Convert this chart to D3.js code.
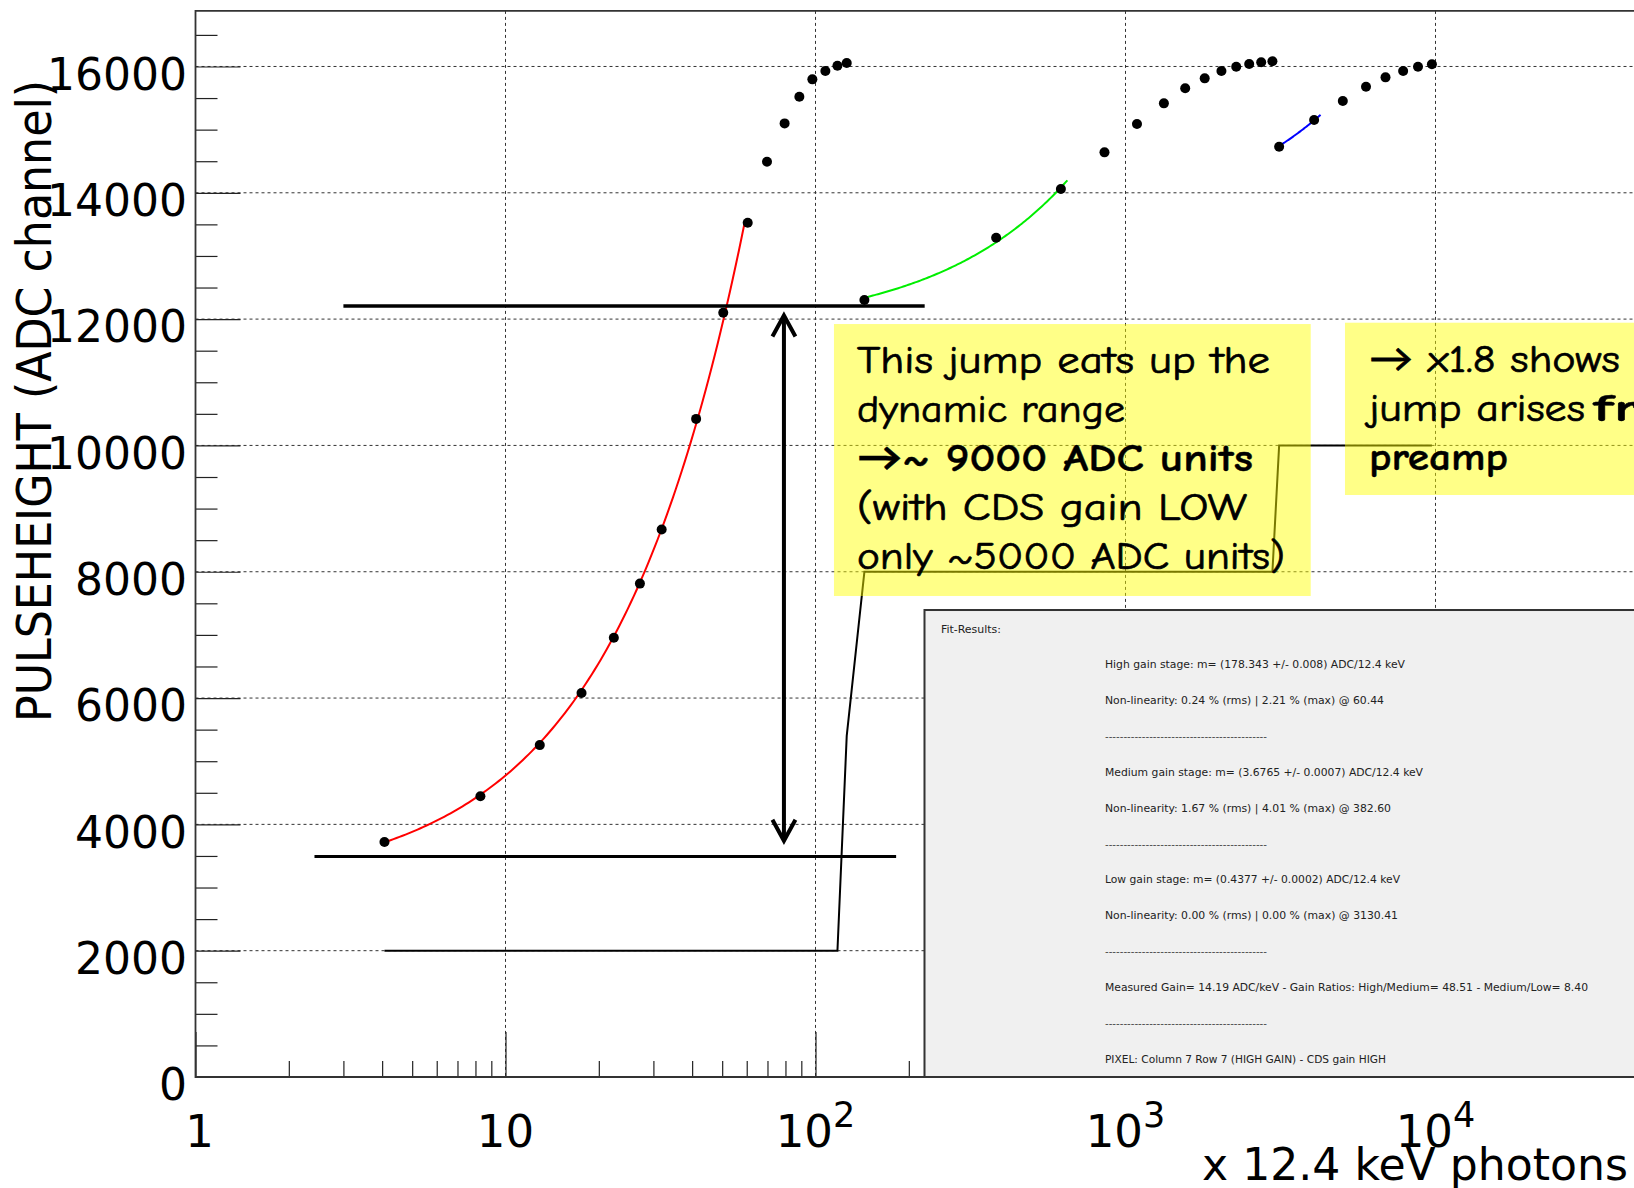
<!DOCTYPE html>
<html>
<head>
<meta charset="utf-8">
<script src="https://cdn.jsdelivr.net/npm/d3@7"></script>
<style>
  html, body { margin: 0; padding: 0; background: #fff; overflow: hidden; }
  svg { display: block; }
</style>
</head>
<body>
<svg id="chart" width="1634" height="1188"></svg>
<script>
// Pulse height vs. number of 12.4 keV photons for one pixel (three gain stages)
const photons = [
  4.07, 8.30, 12.9, 17.59, 22.36, 27.14, 31.9, 41.2, 50.4, 60.44,
  69.75, 79.5, 88.7, 97.7, 107.6, 117.7, 126.1,
  143.8, 382.6, 618.9,
  855.5, 1089, 1330, 1558, 1801, 2039, 2276, 2506, 2740, 2978,
  3130.41, 4059,
  5023, 5968, 6898, 7864, 8781, 9737
];
const pulseHeight = [
  3721, 4446, 5255, 6080, 6954, 7812, 8670, 10420, 12102, 13526,
  14492, 15099, 15521, 15796, 15928, 16012, 16055,
  12302, 13289, 14060,
  14640, 15089, 15416, 15654, 15812, 15928, 15996, 16039, 16066, 16082,
  14730, 15152,
  15453, 15680, 15828, 15928, 15996, 16034
];
// gain-stage trace drawn through every measurement
const stageLevel = [
  2000, 2000, 2000, 2000, 2000, 2000, 2000, 2000, 2000, 2000,
  2000, 2000, 2000, 2000, 2000, 2000, 5400,
  8000, 8000, 8000,
  8000, 8000, 8000, 8000, 8000, 8000, 8000, 8000, 8000, 8000,
  10000, 10000,
  10000, 10000, 10000, 10000, 10000, 10000
];

// linear fits per gain stage: slope (ADC per photon), offset, fitted photon range
const fitNames   = ["high", "medium", "low"];
const fitSlopes  = [178.343, 3.6765, 0.4377];
const fitOffsets = [2990, 11810, 13370];
const fitFrom    = [4.07, 143.8, 3100];
const fitTo      = [59.2, 649.5, 4258];
const fitColors  = ["#ff0000", "#00ee00", "#0000ff"];

// dynamic-range markers
const levelLines = [
  { level: 12207, from: 3.0,  to: 225, width: 3.5 },
  { level: 3490,  from: 2.42, to: 182, width: 3 }
];
const jumpArrow = { at: 79.1, from: 3725, to: 12073 };

// axis ticks
const yMajor = [0, 2000, 4000, 6000, 8000, 10000, 12000, 14000, 16000];
const yMinor = [500, 1000, 1500, 2500, 3000, 3500, 4500, 5000, 5500, 6500, 7000, 7500,
                8500, 9000, 9500, 10500, 11000, 11500, 12500, 13000, 13500, 14500, 15000,
                15500, 16500];
const xMajor = [1, 10, 100, 1000, 10000];
const xBase  = ["1", "10", "10", "10", "10"];
const xExp   = ["", "", "2", "3", "4"];
const xMinor = [2, 3, 4, 5, 6, 7, 8, 9, 20, 30, 40, 50, 60, 70, 80, 90,
                200, 300, 400, 500, 600, 700, 800, 900,
                2000, 3000, 4000, 5000, 6000, 7000, 8000, 9000];

// fit summary text
const statsTitle = "Fit-Results:";
const statsLines = [
  "High gain stage: m= (178.343 +/- 0.008) ADC/12.4 keV",
  "Non-linearity: 0.24 % (rms) | 2.21 % (max) @ 60.44",
  "--------------------------------------------",
  "Medium gain stage: m= (3.6765 +/- 0.0007) ADC/12.4 keV",
  "Non-linearity: 1.67 % (rms) | 4.01 % (max) @ 382.60",
  "--------------------------------------------",
  "Low gain stage: m= (0.4377 +/- 0.0002) ADC/12.4 keV",
  "Non-linearity: 0.00 % (rms) | 0.00 % (max) @ 3130.41",
  "--------------------------------------------",
  "Measured Gain= 14.19 ADC/keV - Gain Ratios: High/Medium= 48.51 - Medium/Low= 8.40",
  "--------------------------------------------",
  "PIXEL: Column 7 Row 7 (HIGH GAIN) - CDS gain HIGH"
];
const statsWidths = [300, 279, 162, 318, 286, 162, 295, 293, 162, 483, 162, 281];

// callout notes
const noteA = [
  { parts: [{ t: "This jump eats up the", b: false }], w: 413 },
  { parts: [{ t: "dynamic range", b: false }], w: 268 },
  { parts: [{ t: "\u2192~ 9000 ADC units", b: true }], w: 396 },
  { parts: [{ t: "(with CDS gain LOW", b: false }], w: 390 },
  { parts: [{ t: "only ~5000 ADC units)", b: false }], w: 428 }
];
const noteB = [
  { parts: [{ t: "\u2192 x1.8 shows", b: false, w: 251 }, { t: "that the", b: false, w: 150, gap: 22 }] },
  { parts: [{ t: "jump arises", b: false, w: 216 }, { t: "from the", b: true, w: 240, gap: 8 }] },
  { parts: [{ t: "preamp", b: true, w: 139 }] }
];

// ---------------------------------------------------------------------------
const W = 1634, H = 1188;
const svg = d3.select("#chart");
svg.append("rect").attr("width", W).attr("height", H).attr("fill", "#fff");

const x = d3.scaleLog().domain([1, 1e5]).range([195.5, 1745.5]);
const y = d3.scaleLinear().domain([0, 16880]).range([1077, 10.9]);
const frameLeft = x.range()[0], frameBottom = y.range()[0], frameTop = y.range()[1];

const SANS = "'DejaVu Sans', Verdana, sans-serif";
const COND = "'DejaVu Sans Condensed', 'DejaVu Sans', sans-serif";
const HAND = "'Comic Sans MS', 'Comic Neue', Lato, 'Open Sans', sans-serif";

// grid
const grid = svg.append("g").attr("stroke", "#333").attr("stroke-width", 1)
  .attr("stroke-dasharray", "3,3");
grid.selectAll(".gy").data(yMajor.filter(d => d > 0)).join("line")
  .attr("x1", frameLeft).attr("x2", W).attr("y1", d => y(d)).attr("y2", d => y(d));
grid.selectAll(".gx").data(xMajor.filter(d => d > 1)).join("line")
  .attr("x1", d => x(d)).attr("x2", d => x(d)).attr("y1", frameTop).attr("y2", frameBottom);

// axes (ticks point into the frame)
const yAxisMajor = d3.axisLeft(y).tickValues(yMajor).tickSize(-45).tickPadding(8.5)
  .tickFormat(d3.format("d"));
const yAxisMinor = d3.axisLeft(y).tickValues(yMinor).tickSize(-22).tickFormat("");
const xAxisMajor = d3.axisBottom(x).tickValues(xMajor).tickSize(-45).tickFormat("");
const xAxisMinor = d3.axisBottom(x).tickValues(xMinor).tickSize(-16).tickFormat("");

function styleAxis(g) {
  g.select(".domain").remove();
  g.selectAll(".tick line").attr("stroke", "#222").attr("stroke-width", 1.2);
}
const gy1 = svg.append("g").attr("transform", `translate(${frameLeft},0)`).call(yAxisMajor).call(styleAxis);
gy1.selectAll(".tick text").attr("font-family", SANS).attr("font-size", 44)
  .attr("fill", "#000").attr("dy", "0.52em");
svg.append("g").attr("transform", `translate(${frameLeft},0)`).call(yAxisMinor).call(styleAxis);
svg.append("g").attr("transform", `translate(0,${frameBottom})`).call(xAxisMajor).call(styleAxis);
svg.append("g").attr("transform", `translate(0,${frameBottom})`).call(xAxisMinor).call(styleAxis);

// x tick labels with exponents
const xl = svg.append("g").attr("font-family", SANS).attr("fill", "#000");
xMajor.forEach((v, i) => {
  const t = xl.append("text").attr("x", x(v) + (i === 0 ? 4 : 0)).attr("y", 1146.7)
    .attr("text-anchor", "middle").attr("font-size", 45);
  t.append("tspan").text(xBase[i]);
  if (xExp[i]) t.append("tspan").attr("dy", -20).attr("font-size", 35).text(xExp[i]);
});

// frame
svg.append("path")
  .attr("d", `M${W + 5},${frameTop} H${frameLeft} V${frameBottom} H${W + 5}`)
  .attr("fill", "none").attr("stroke", "#333").attr("stroke-width", 1.8);

// gain-stage trace
const idx = d3.range(photons.length);
svg.append("path")
  .attr("d", d3.line().x(i => x(photons[i])).y(i => y(stageLevel[i]))(idx))
  .attr("fill", "none").attr("stroke", "#000").attr("stroke-width", 2);

// fits
fitNames.forEach((n, k) => {
  const a = fitFrom[k], b = fitTo[k], steps = 120;
  const xs = d3.range(steps + 1).map(s => a * Math.pow(b / a, s / steps));
  svg.append("path")
    .attr("class", "fit-" + n)
    .attr("d", d3.line().x(v => x(v)).y(v => y(fitSlopes[k] * v + fitOffsets[k]))(xs))
    .attr("fill", "none").attr("stroke", fitColors[k]).attr("stroke-width", 2);
});

// measurements
svg.append("g").selectAll("circle").data(idx).join("circle")
  .attr("cx", i => x(photons[i])).attr("cy", i => y(pulseHeight[i]))
  .attr("r", 5).attr("fill", "#000");

// dynamic-range markers
svg.append("g").selectAll("line").data(levelLines).join("line")
  .attr("x1", d => x(d.from)).attr("x2", d => x(d.to))
  .attr("y1", d => y(d.level)).attr("y2", d => y(d.level))
  .attr("stroke", "#000").attr("stroke-width", d => d.width);

const ax = x(jumpArrow.at), aTop = y(jumpArrow.to), aBot = y(jumpArrow.from);
const arrowG = svg.append("g").attr("stroke", "#000").attr("stroke-width", 4)
  .attr("fill", "none").attr("stroke-linecap", "butt");
arrowG.append("line").attr("x1", ax).attr("x2", ax).attr("y1", aTop + 2).attr("y2", aBot - 2);
arrowG.append("path").attr("d", `M${ax - 11.5},${aTop + 22} L${ax},${aTop + 1} L${ax + 11.5},${aTop + 22}`);
arrowG.append("path").attr("d", `M${ax - 11.5},${aBot - 22} L${ax},${aBot - 1} L${ax + 11.5},${aBot - 22}`);

// callout boxes (translucent yellow)
function callout(x0, x1, v0, v1, lines, inset) {
  const bx = x(x0), by = y(v1);
  svg.append("rect").attr("x", bx).attr("y", by)
    .attr("width", Math.min(x(x1), W + 10) - bx).attr("height", y(v0) - by)
    .attr("fill", "rgba(255,255,0,0.47)");
  lines.forEach((ln, li) => {
    let cx = bx + inset;
    const base = by + 49.3 + li * 48.8;
    ln.parts.forEach(p => {
      const w = p.w || ln.w;
      cx += p.gap || 0;
      svg.append("text").attr("x", cx).attr("y", base)
        .attr("font-family", HAND).attr("font-size", 39)
        .attr("font-weight", p.b ? "bold" : "normal").attr("fill", "#000")
        .attr("stroke", "#000").attr("stroke-width", p.b ? 0.4 : 0.7)
        .attr("textLength", w).attr("lengthAdjust", "spacingAndGlyphs")
        .text(p.t);
      cx += w;
    });
  });
}
callout(114.7, 3958, 7616, 11922, noteA, 23);
callout(5105, 1e5, 9215, 11943, noteB, 24);

// fit summary pane
const px0 = x(224.7), py0 = y(7394);
svg.append("rect").attr("x", px0).attr("y", py0)
  .attr("width", W + 10 - px0).attr("height", frameBottom - py0)
  .attr("fill", "#f0f0f0").attr("stroke", "#333").attr("stroke-width", 2);
const st = svg.append("g").attr("font-family", COND).attr("font-size", 11.3).attr("fill", "#222");
st.append("text").attr("x", px0 + 16.5).attr("y", py0 + 23).text(statsTitle)
  .attr("textLength", 60).attr("lengthAdjust", "spacingAndGlyphs");
statsLines.forEach((s, i) => {
  st.append("text").attr("x", px0 + 180.5).attr("y", py0 + 58 + i * 35.9)
    .attr("textLength", statsWidths[i]).attr("lengthAdjust", "spacingAndGlyphs")
    .attr("font-size", s.startsWith("---") ? 8 : 11.3)
    .text(s);
});

// axis titles
svg.append("text").attr("x", 1628).attr("y", 1180).attr("text-anchor", "end")
  .attr("font-family", SANS).attr("font-size", 45).attr("fill", "#000")
  .attr("textLength", 426).attr("lengthAdjust", "spacingAndGlyphs")
  .text("x 12.4 keV photons");
svg.append("text").attr("transform", "translate(51,401) rotate(-90)")
  .attr("text-anchor", "middle").attr("font-family", SANS).attr("font-size", 48)
  .attr("fill", "#000").attr("textLength", 642).attr("lengthAdjust", "spacingAndGlyphs")
  .text("PULSEHEIGHT (ADC channel)");
</script>
</body>
</html>
